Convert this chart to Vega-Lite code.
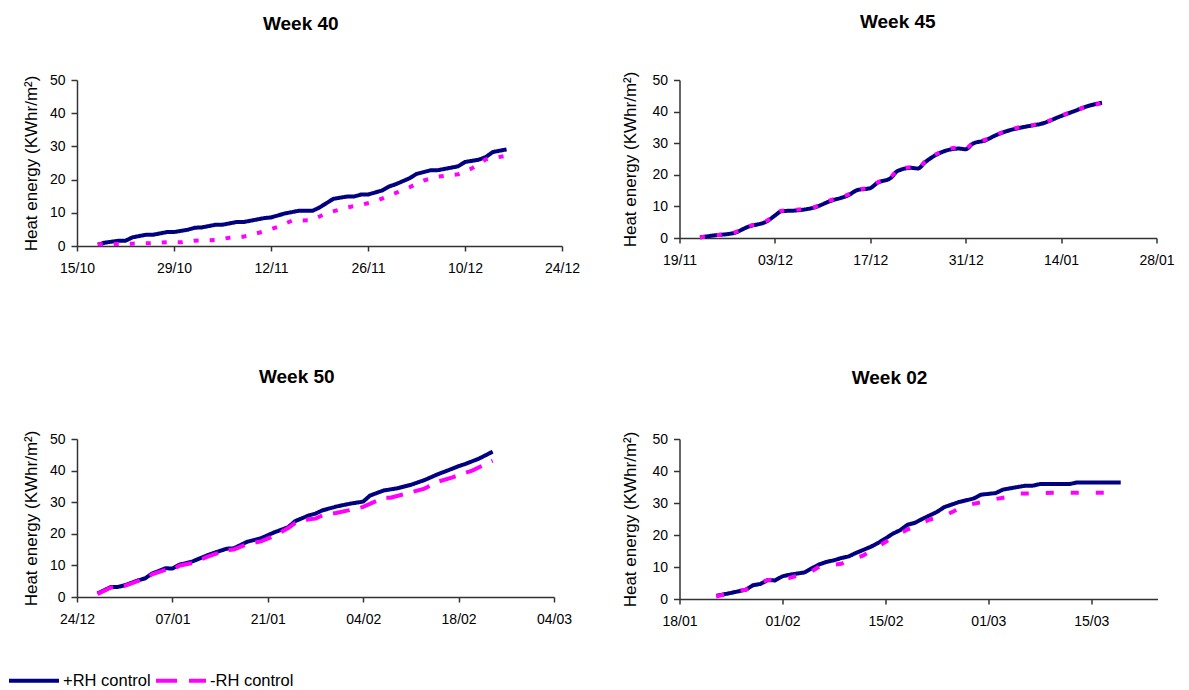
{
  "$schema": "https://vega.github.io/schema/vega-lite/v6.json",
  "autosize": {"type": "pad"},
  "padding": {"left": 7, "top": 12, "right": 0, "bottom": 0},
  "background": "white",
  "datasets": {
    "w40": [
      {"date": "2006-10-18", "series": "+RH control", "energy": 0.4},
      {"date": "2006-10-19", "series": "+RH control", "energy": 1.0},
      {"date": "2006-10-21", "series": "+RH control", "energy": 1.6},
      {"date": "2006-10-22", "series": "+RH control", "energy": 1.6},
      {"date": "2006-10-23", "series": "+RH control", "energy": 2.6},
      {"date": "2006-10-25", "series": "+RH control", "energy": 3.4},
      {"date": "2006-10-26", "series": "+RH control", "energy": 3.4},
      {"date": "2006-10-28", "series": "+RH control", "energy": 4.2},
      {"date": "2006-10-29", "series": "+RH control", "energy": 4.2},
      {"date": "2006-10-31", "series": "+RH control", "energy": 4.9},
      {"date": "2006-11-01", "series": "+RH control", "energy": 5.5},
      {"date": "2006-11-02", "series": "+RH control", "energy": 5.6},
      {"date": "2006-11-04", "series": "+RH control", "energy": 6.4},
      {"date": "2006-11-05", "series": "+RH control", "energy": 6.4},
      {"date": "2006-11-07", "series": "+RH control", "energy": 7.2},
      {"date": "2006-11-08", "series": "+RH control", "energy": 7.2},
      {"date": "2006-11-11", "series": "+RH control", "energy": 8.4},
      {"date": "2006-11-12", "series": "+RH control", "energy": 8.6},
      {"date": "2006-11-14", "series": "+RH control", "energy": 9.8},
      {"date": "2006-11-16", "series": "+RH control", "energy": 10.6},
      {"date": "2006-11-18", "series": "+RH control", "energy": 10.6},
      {"date": "2006-11-19", "series": "+RH control", "energy": 11.6},
      {"date": "2006-11-20", "series": "+RH control", "energy": 12.9},
      {"date": "2006-11-21", "series": "+RH control", "energy": 14.2},
      {"date": "2006-11-23", "series": "+RH control", "energy": 14.9},
      {"date": "2006-11-24", "series": "+RH control", "energy": 14.9},
      {"date": "2006-11-25", "series": "+RH control", "energy": 15.5},
      {"date": "2006-11-26", "series": "+RH control", "energy": 15.5},
      {"date": "2006-11-28", "series": "+RH control", "energy": 16.7},
      {"date": "2006-11-29", "series": "+RH control", "energy": 17.9},
      {"date": "2006-11-30", "series": "+RH control", "energy": 18.6},
      {"date": "2006-12-02", "series": "+RH control", "energy": 20.4},
      {"date": "2006-12-03", "series": "+RH control", "energy": 21.7},
      {"date": "2006-12-05", "series": "+RH control", "energy": 22.8},
      {"date": "2006-12-06", "series": "+RH control", "energy": 22.8},
      {"date": "2006-12-09", "series": "+RH control", "energy": 24.0},
      {"date": "2006-12-10", "series": "+RH control", "energy": 25.3},
      {"date": "2006-12-12", "series": "+RH control", "energy": 26.0},
      {"date": "2006-12-13", "series": "+RH control", "energy": 26.8},
      {"date": "2006-12-14", "series": "+RH control", "energy": 28.3},
      {"date": "2006-12-16", "series": "+RH control", "energy": 29.1},
      {"date": "2006-10-18", "series": "-RH control", "energy": 0.5},
      {"date": "2006-10-20", "series": "-RH control", "energy": 0.6},
      {"date": "2006-10-23", "series": "-RH control", "energy": 0.7},
      {"date": "2006-10-25", "series": "-RH control", "energy": 0.8},
      {"date": "2006-10-28", "series": "-RH control", "energy": 1.1},
      {"date": "2006-10-30", "series": "-RH control", "energy": 1.1},
      {"date": "2006-11-01", "series": "-RH control", "energy": 1.6},
      {"date": "2006-11-04", "series": "-RH control", "energy": 1.8},
      {"date": "2006-11-06", "series": "-RH control", "energy": 2.5},
      {"date": "2006-11-08", "series": "-RH control", "energy": 2.8},
      {"date": "2006-11-11", "series": "-RH control", "energy": 4.4},
      {"date": "2006-11-13", "series": "-RH control", "energy": 5.8},
      {"date": "2006-11-15", "series": "-RH control", "energy": 7.6},
      {"date": "2006-11-18", "series": "-RH control", "energy": 7.8},
      {"date": "2006-11-20", "series": "-RH control", "energy": 9.9},
      {"date": "2006-11-23", "series": "-RH control", "energy": 11.6},
      {"date": "2006-11-25", "series": "-RH control", "energy": 12.4},
      {"date": "2006-11-27", "series": "-RH control", "energy": 13.4},
      {"date": "2006-11-29", "series": "-RH control", "energy": 15.1},
      {"date": "2006-12-02", "series": "-RH control", "energy": 17.7},
      {"date": "2006-12-04", "series": "-RH control", "energy": 19.7},
      {"date": "2006-12-06", "series": "-RH control", "energy": 20.9},
      {"date": "2006-12-09", "series": "-RH control", "energy": 21.6},
      {"date": "2006-12-11", "series": "-RH control", "energy": 23.4},
      {"date": "2006-12-13", "series": "-RH control", "energy": 26.1},
      {"date": "2006-12-16", "series": "-RH control", "energy": 27.2}
    ],
    "w45": [
      {"date": "2006-11-22", "series": "+RH control", "energy": 0.2},
      {"date": "2006-11-24", "series": "+RH control", "energy": 0.8},
      {"date": "2006-11-27", "series": "+RH control", "energy": 1.6},
      {"date": "2006-11-29", "series": "+RH control", "energy": 3.5},
      {"date": "2006-12-02", "series": "+RH control", "energy": 5.5},
      {"date": "2006-12-03", "series": "+RH control", "energy": 7.1},
      {"date": "2006-12-04", "series": "+RH control", "energy": 8.5},
      {"date": "2006-12-06", "series": "+RH control", "energy": 8.7},
      {"date": "2006-12-09", "series": "+RH control", "energy": 9.8},
      {"date": "2006-12-11", "series": "+RH control", "energy": 11.6},
      {"date": "2006-12-14", "series": "+RH control", "energy": 13.8},
      {"date": "2006-12-15", "series": "+RH control", "energy": 15.1},
      {"date": "2006-12-17", "series": "+RH control", "energy": 15.8},
      {"date": "2006-12-18", "series": "+RH control", "energy": 17.4},
      {"date": "2006-12-20", "series": "+RH control", "energy": 19.0},
      {"date": "2006-12-21", "series": "+RH control", "energy": 21.2},
      {"date": "2006-12-23", "series": "+RH control", "energy": 22.2},
      {"date": "2006-12-24", "series": "+RH control", "energy": 22.0},
      {"date": "2006-12-25", "series": "+RH control", "energy": 23.9},
      {"date": "2006-12-27", "series": "+RH control", "energy": 26.7},
      {"date": "2006-12-30", "series": "+RH control", "energy": 28.3},
      {"date": "2006-12-31", "series": "+RH control", "energy": 28.1},
      {"date": "2007-01-01", "series": "+RH control", "energy": 29.8},
      {"date": "2007-01-03", "series": "+RH control", "energy": 31.0},
      {"date": "2007-01-04", "series": "+RH control", "energy": 32.1},
      {"date": "2007-01-06", "series": "+RH control", "energy": 33.8},
      {"date": "2007-01-08", "series": "+RH control", "energy": 34.9},
      {"date": "2007-01-10", "series": "+RH control", "energy": 35.7},
      {"date": "2007-01-11", "series": "+RH control", "energy": 36.1},
      {"date": "2007-01-14", "series": "+RH control", "energy": 38.6},
      {"date": "2007-01-16", "series": "+RH control", "energy": 40.2},
      {"date": "2007-01-18", "series": "+RH control", "energy": 41.8},
      {"date": "2007-01-20", "series": "+RH control", "energy": 42.8},
      {"date": "2006-11-22", "series": "-RH control", "energy": 0.2},
      {"date": "2006-11-24", "series": "-RH control", "energy": 0.8},
      {"date": "2006-11-27", "series": "-RH control", "energy": 1.7},
      {"date": "2006-11-29", "series": "-RH control", "energy": 3.6},
      {"date": "2006-12-02", "series": "-RH control", "energy": 5.7},
      {"date": "2006-12-03", "series": "-RH control", "energy": 7.3},
      {"date": "2006-12-04", "series": "-RH control", "energy": 8.6},
      {"date": "2006-12-06", "series": "-RH control", "energy": 8.9},
      {"date": "2006-12-09", "series": "-RH control", "energy": 9.9},
      {"date": "2006-12-11", "series": "-RH control", "energy": 11.8},
      {"date": "2006-12-14", "series": "-RH control", "energy": 14.0},
      {"date": "2006-12-15", "series": "-RH control", "energy": 15.2},
      {"date": "2006-12-17", "series": "-RH control", "energy": 16.0},
      {"date": "2006-12-18", "series": "-RH control", "energy": 17.5},
      {"date": "2006-12-20", "series": "-RH control", "energy": 19.3},
      {"date": "2006-12-21", "series": "-RH control", "energy": 21.4},
      {"date": "2006-12-23", "series": "-RH control", "energy": 22.4},
      {"date": "2006-12-24", "series": "-RH control", "energy": 22.2},
      {"date": "2006-12-25", "series": "-RH control", "energy": 24.1},
      {"date": "2006-12-27", "series": "-RH control", "energy": 26.9},
      {"date": "2006-12-30", "series": "-RH control", "energy": 28.6},
      {"date": "2006-12-31", "series": "-RH control", "energy": 28.4},
      {"date": "2007-01-01", "series": "-RH control", "energy": 29.9},
      {"date": "2007-01-03", "series": "-RH control", "energy": 31.2},
      {"date": "2007-01-04", "series": "-RH control", "energy": 32.2},
      {"date": "2007-01-06", "series": "-RH control", "energy": 33.9},
      {"date": "2007-01-08", "series": "-RH control", "energy": 35.1},
      {"date": "2007-01-10", "series": "-RH control", "energy": 35.8},
      {"date": "2007-01-11", "series": "-RH control", "energy": 36.2},
      {"date": "2007-01-14", "series": "-RH control", "energy": 38.7},
      {"date": "2007-01-16", "series": "-RH control", "energy": 40.3},
      {"date": "2007-01-18", "series": "-RH control", "energy": 41.7},
      {"date": "2007-01-20", "series": "-RH control", "energy": 42.6}
    ],
    "w50": [
      {"date": "2006-12-27", "series": "+RH control", "energy": 1.1},
      {"date": "2006-12-29", "series": "+RH control", "energy": 3.2},
      {"date": "2006-12-30", "series": "+RH control", "energy": 3.2},
      {"date": "2006-12-31", "series": "+RH control", "energy": 3.7},
      {"date": "2007-01-02", "series": "+RH control", "energy": 5.3},
      {"date": "2007-01-03", "series": "+RH control", "energy": 5.9},
      {"date": "2007-01-04", "series": "+RH control", "energy": 7.4},
      {"date": "2007-01-06", "series": "+RH control", "energy": 9.1},
      {"date": "2007-01-07", "series": "+RH control", "energy": 9.0},
      {"date": "2007-01-08", "series": "+RH control", "energy": 10.2},
      {"date": "2007-01-10", "series": "+RH control", "energy": 11.3},
      {"date": "2007-01-12", "series": "+RH control", "energy": 13.1},
      {"date": "2007-01-13", "series": "+RH control", "energy": 13.9},
      {"date": "2007-01-15", "series": "+RH control", "energy": 15.3},
      {"date": "2007-01-16", "series": "+RH control", "energy": 15.4},
      {"date": "2007-01-18", "series": "+RH control", "energy": 17.5},
      {"date": "2007-01-20", "series": "+RH control", "energy": 18.6},
      {"date": "2007-01-22", "series": "+RH control", "energy": 20.5},
      {"date": "2007-01-24", "series": "+RH control", "energy": 22.1},
      {"date": "2007-01-25", "series": "+RH control", "energy": 24.0},
      {"date": "2007-01-27", "series": "+RH control", "energy": 25.8},
      {"date": "2007-01-28", "series": "+RH control", "energy": 26.4},
      {"date": "2007-01-29", "series": "+RH control", "energy": 27.4},
      {"date": "2007-01-31", "series": "+RH control", "energy": 28.6},
      {"date": "2007-02-02", "series": "+RH control", "energy": 29.5},
      {"date": "2007-02-04", "series": "+RH control", "energy": 30.2},
      {"date": "2007-02-05", "series": "+RH control", "energy": 32.1},
      {"date": "2007-02-07", "series": "+RH control", "energy": 33.7},
      {"date": "2007-02-09", "series": "+RH control", "energy": 34.4},
      {"date": "2007-02-11", "series": "+RH control", "energy": 35.5},
      {"date": "2007-02-13", "series": "+RH control", "energy": 37.0},
      {"date": "2007-02-15", "series": "+RH control", "energy": 38.9},
      {"date": "2007-02-16", "series": "+RH control", "energy": 39.7},
      {"date": "2007-02-18", "series": "+RH control", "energy": 41.4},
      {"date": "2007-02-19", "series": "+RH control", "energy": 42.1},
      {"date": "2007-02-21", "series": "+RH control", "energy": 43.8},
      {"date": "2007-02-23", "series": "+RH control", "energy": 46.0},
      {"date": "2006-12-27", "series": "-RH control", "energy": 1.0},
      {"date": "2006-12-29", "series": "-RH control", "energy": 3.0},
      {"date": "2006-12-30", "series": "-RH control", "energy": 3.0},
      {"date": "2006-12-31", "series": "-RH control", "energy": 3.5},
      {"date": "2007-01-02", "series": "-RH control", "energy": 5.1},
      {"date": "2007-01-03", "series": "-RH control", "energy": 5.7},
      {"date": "2007-01-04", "series": "-RH control", "energy": 7.2},
      {"date": "2007-01-06", "series": "-RH control", "energy": 8.6},
      {"date": "2007-01-07", "series": "-RH control", "energy": 8.5},
      {"date": "2007-01-08", "series": "-RH control", "energy": 9.9},
      {"date": "2007-01-10", "series": "-RH control", "energy": 10.8},
      {"date": "2007-01-12", "series": "-RH control", "energy": 12.6},
      {"date": "2007-01-13", "series": "-RH control", "energy": 13.4},
      {"date": "2007-01-15", "series": "-RH control", "energy": 14.8},
      {"date": "2007-01-16", "series": "-RH control", "energy": 15.0},
      {"date": "2007-01-18", "series": "-RH control", "energy": 16.8},
      {"date": "2007-01-20", "series": "-RH control", "energy": 17.6},
      {"date": "2007-01-22", "series": "-RH control", "energy": 19.4},
      {"date": "2007-01-24", "series": "-RH control", "energy": 21.8},
      {"date": "2007-01-25", "series": "-RH control", "energy": 23.4},
      {"date": "2007-01-27", "series": "-RH control", "energy": 24.6},
      {"date": "2007-01-28", "series": "-RH control", "energy": 24.8},
      {"date": "2007-01-29", "series": "-RH control", "energy": 25.8},
      {"date": "2007-01-31", "series": "-RH control", "energy": 26.6},
      {"date": "2007-02-02", "series": "-RH control", "energy": 27.5},
      {"date": "2007-02-04", "series": "-RH control", "energy": 28.5},
      {"date": "2007-02-07", "series": "-RH control", "energy": 31.4},
      {"date": "2007-02-08", "series": "-RH control", "energy": 31.4},
      {"date": "2007-02-11", "series": "-RH control", "energy": 33.1},
      {"date": "2007-02-13", "series": "-RH control", "energy": 34.3},
      {"date": "2007-02-15", "series": "-RH control", "energy": 36.5},
      {"date": "2007-02-17", "series": "-RH control", "energy": 37.8},
      {"date": "2007-02-20", "series": "-RH control", "energy": 40.0},
      {"date": "2007-02-22", "series": "-RH control", "energy": 42.1},
      {"date": "2007-02-23", "series": "-RH control", "energy": 43.1}
    ],
    "w02": [
      {"date": "2007-01-23", "series": "+RH control", "energy": 1.0},
      {"date": "2007-01-25", "series": "+RH control", "energy": 1.9},
      {"date": "2007-01-27", "series": "+RH control", "energy": 2.9},
      {"date": "2007-01-28", "series": "+RH control", "energy": 4.3},
      {"date": "2007-01-29", "series": "+RH control", "energy": 4.7},
      {"date": "2007-01-30", "series": "+RH control", "energy": 5.9},
      {"date": "2007-01-31", "series": "+RH control", "energy": 5.8},
      {"date": "2007-02-01", "series": "+RH control", "energy": 7.1},
      {"date": "2007-02-02", "series": "+RH control", "energy": 7.6},
      {"date": "2007-02-04", "series": "+RH control", "energy": 8.3},
      {"date": "2007-02-05", "series": "+RH control", "energy": 9.6},
      {"date": "2007-02-06", "series": "+RH control", "energy": 10.8},
      {"date": "2007-02-07", "series": "+RH control", "energy": 11.6},
      {"date": "2007-02-08", "series": "+RH control", "energy": 12.1},
      {"date": "2007-02-09", "series": "+RH control", "energy": 12.8},
      {"date": "2007-02-10", "series": "+RH control", "energy": 13.3},
      {"date": "2007-02-11", "series": "+RH control", "energy": 14.4},
      {"date": "2007-02-13", "series": "+RH control", "energy": 16.3},
      {"date": "2007-02-14", "series": "+RH control", "energy": 17.5},
      {"date": "2007-02-15", "series": "+RH control", "energy": 18.9},
      {"date": "2007-02-16", "series": "+RH control", "energy": 20.4},
      {"date": "2007-02-17", "series": "+RH control", "energy": 21.5},
      {"date": "2007-02-18", "series": "+RH control", "energy": 23.2},
      {"date": "2007-02-19", "series": "+RH control", "energy": 23.8},
      {"date": "2007-02-20", "series": "+RH control", "energy": 25.0},
      {"date": "2007-02-22", "series": "+RH control", "energy": 27.2},
      {"date": "2007-02-23", "series": "+RH control", "energy": 28.7},
      {"date": "2007-02-25", "series": "+RH control", "energy": 30.3},
      {"date": "2007-02-27", "series": "+RH control", "energy": 31.4},
      {"date": "2007-02-28", "series": "+RH control", "energy": 32.6},
      {"date": "2007-03-02", "series": "+RH control", "energy": 33.1},
      {"date": "2007-03-03", "series": "+RH control", "energy": 34.2},
      {"date": "2007-03-06", "series": "+RH control", "energy": 35.4},
      {"date": "2007-03-07", "series": "+RH control", "energy": 35.4},
      {"date": "2007-03-08", "series": "+RH control", "energy": 35.9},
      {"date": "2007-03-12", "series": "+RH control", "energy": 35.9},
      {"date": "2007-03-13", "series": "+RH control", "energy": 36.4},
      {"date": "2007-03-19", "series": "+RH control", "energy": 36.4},
      {"date": "2007-01-23", "series": "-RH control", "energy": 0.8},
      {"date": "2007-01-24", "series": "-RH control", "energy": 1.4},
      {"date": "2007-01-26", "series": "-RH control", "energy": 2.5},
      {"date": "2007-01-27", "series": "-RH control", "energy": 2.9},
      {"date": "2007-01-29", "series": "-RH control", "energy": 5.2},
      {"date": "2007-01-30", "series": "-RH control", "energy": 5.9},
      {"date": "2007-02-02", "series": "-RH control", "energy": 6.6},
      {"date": "2007-02-03", "series": "-RH control", "energy": 7.3},
      {"date": "2007-02-05", "series": "-RH control", "energy": 8.7},
      {"date": "2007-02-06", "series": "-RH control", "energy": 10.1},
      {"date": "2007-02-09", "series": "-RH control", "energy": 11.0},
      {"date": "2007-02-10", "series": "-RH control", "energy": 12.0},
      {"date": "2007-02-12", "series": "-RH control", "energy": 13.6},
      {"date": "2007-02-13", "series": "-RH control", "energy": 15.1},
      {"date": "2007-02-15", "series": "-RH control", "energy": 17.8},
      {"date": "2007-02-16", "series": "-RH control", "energy": 19.3},
      {"date": "2007-02-18", "series": "-RH control", "energy": 21.7},
      {"date": "2007-02-19", "series": "-RH control", "energy": 22.7},
      {"date": "2007-02-21", "series": "-RH control", "energy": 24.8},
      {"date": "2007-02-23", "series": "-RH control", "energy": 26.0},
      {"date": "2007-02-25", "series": "-RH control", "energy": 28.2},
      {"date": "2007-02-26", "series": "-RH control", "energy": 29.3},
      {"date": "2007-02-28", "series": "-RH control", "energy": 30.2},
      {"date": "2007-03-01", "series": "-RH control", "energy": 30.8},
      {"date": "2007-03-04", "series": "-RH control", "energy": 32.1},
      {"date": "2007-03-05", "series": "-RH control", "energy": 33.0},
      {"date": "2007-03-07", "series": "-RH control", "energy": 33.0},
      {"date": "2007-03-10", "series": "-RH control", "energy": 33.2},
      {"date": "2007-03-18", "series": "-RH control", "energy": 33.2}
    ]
  },
  "concat": [
    {
      "title": {"text": "Week 40", "offset": 39.5},
      "width": 485,
      "height": 166,
      "data": {"name": "w40"},
      "mark": {"type": "line", "strokeWidth": 4},
      "encoding": {
        "x": {
          "field": "date", "type": "temporal",
          "scale": {"type": "utc", "domain": [{"year": 2006, "month": 10, "date": 15, "utc": true}, {"year": 2006, "month": 12, "date": 24, "utc": true}]},
          "axis": {"title": null, "labelExpr": "utcFormat(datum.value, '%d/%m')",
            "values": [{"year": 2006, "month": 10, "date": 15, "utc": true}, {"year": 2006, "month": 10, "date": 29, "utc": true}, {"year": 2006, "month": 11, "date": 12, "utc": true}, {"year": 2006, "month": 11, "date": 26, "utc": true}, {"year": 2006, "month": 12, "date": 10, "utc": true}, {"year": 2006, "month": 12, "date": 24, "utc": true}]}
        },
        "y": {"field": "energy", "type": "quantitative", "scale": {"domain": [0, 50]},
          "axis": {"title": "Heat energy (KWhr/m²)", "values": [0, 10, 20, 30, 40, 50], "titlePadding": 9.4}},
        "color": {"field": "series", "type": "nominal",
          "scale": {"domain": ["+RH control", "-RH control"], "range": ["#000080", "#FF00FF"]},
          "legend": {"title": null, "encode": {"symbols": {"update": {"strokeDash": {"signal": "datum.value === '-RH control' ? [21, 12] : [1, 0]"}}}}}},
        "strokeDash": {"field": "series", "type": "nominal",
          "scale": {"domain": ["+RH control", "-RH control"], "range": [[1, 0], [5, 11]]}, "legend": null}
      }
    },
    {
      "title": {"text": "Week 45", "offset": 39.5},
      "width": 477,
      "height": 158,
      "data": {"name": "w45"},
      "mark": {"type": "line", "strokeWidth": 4, "interpolate": "monotone"},
      "encoding": {
        "x": {
          "field": "date", "type": "temporal",
          "scale": {"type": "utc", "domain": [{"year": 2006, "month": 11, "date": 19, "utc": true}, {"year": 2007, "month": 1, "date": 28, "utc": true}]},
          "axis": {"title": null, "labelExpr": "utcFormat(datum.value, '%d/%m')",
            "values": [{"year": 2006, "month": 11, "date": 19, "utc": true}, {"year": 2006, "month": 12, "date": 3, "utc": true}, {"year": 2006, "month": 12, "date": 17, "utc": true}, {"year": 2006, "month": 12, "date": 31, "utc": true}, {"year": 2007, "month": 1, "date": 14, "utc": true}, {"year": 2007, "month": 1, "date": 28, "utc": true}]}
        },
        "y": {"field": "energy", "type": "quantitative", "scale": {"domain": [0, 50]},
          "axis": {"title": "Heat energy (KWhr/m²)", "values": [0, 10, 20, 30, 40, 50], "titlePadding": 12.4}},
        "color": {"field": "series", "type": "nominal",
          "scale": {"domain": ["+RH control", "-RH control"], "range": ["#000080", "#FF00FF"]},
          "legend": {"title": null, "encode": {"symbols": {"update": {"strokeDash": {"signal": "datum.value === '-RH control' ? [21, 12] : [1, 0]"}}}}}},
        "strokeDash": {"field": "series", "type": "nominal",
          "scale": {"domain": ["+RH control", "-RH control"], "range": [[1, 0], [5, 12]]}, "legend": null}
      }
    },
    {
      "title": {"text": "Week 50", "offset": 43},
      "width": 477,
      "height": 158,
      "data": {"name": "w50"},
      "mark": {"type": "line", "strokeWidth": 4},
      "encoding": {
        "x": {
          "field": "date", "type": "temporal",
          "scale": {"type": "utc", "domain": [{"year": 2006, "month": 12, "date": 24, "utc": true}, {"year": 2007, "month": 3, "date": 4, "utc": true}]},
          "axis": {"title": null, "labelExpr": "utcFormat(datum.value, '%d/%m')",
            "values": [{"year": 2006, "month": 12, "date": 24, "utc": true}, {"year": 2007, "month": 1, "date": 7, "utc": true}, {"year": 2007, "month": 1, "date": 21, "utc": true}, {"year": 2007, "month": 2, "date": 4, "utc": true}, {"year": 2007, "month": 2, "date": 18, "utc": true}, {"year": 2007, "month": 3, "date": 4, "utc": true}]}
        },
        "y": {"field": "energy", "type": "quantitative", "scale": {"domain": [0, 50]},
          "axis": {"title": "Heat energy (KWhr/m²)", "values": [0, 10, 20, 30, 40, 50], "titlePadding": 9.4}},
        "color": {"field": "series", "type": "nominal",
          "scale": {"domain": ["+RH control", "-RH control"], "range": ["#000080", "#FF00FF"]},
          "legend": {"title": null, "encode": {"symbols": {"update": {"strokeDash": {"signal": "datum.value === '-RH control' ? [21, 12] : [1, 0]"}}}}}},
        "strokeDash": {"field": "series", "type": "nominal",
          "scale": {"domain": ["+RH control", "-RH control"], "range": [[1, 0], [17, 11]]}, "legend": null}
      }
    },
    {
      "title": {"text": "Week 02", "offset": 43},
      "width": 478,
      "height": 160,
      "data": {"name": "w02"},
      "mark": {"type": "line", "strokeWidth": 4},
      "encoding": {
        "x": {
          "field": "date", "type": "temporal",
          "scale": {"type": "utc", "domain": [{"year": 2007, "month": 1, "date": 18, "utc": true}, {"year": 2007, "month": 3, "date": 24, "utc": true}]},
          "axis": {"title": null, "labelExpr": "utcFormat(datum.value, '%d/%m')",
            "values": [{"year": 2007, "month": 1, "date": 18, "utc": true}, {"year": 2007, "month": 2, "date": 1, "utc": true}, {"year": 2007, "month": 2, "date": 15, "utc": true}, {"year": 2007, "month": 3, "date": 1, "utc": true}, {"year": 2007, "month": 3, "date": 15, "utc": true}]}
        },
        "y": {"field": "energy", "type": "quantitative", "scale": {"domain": [0, 50]},
          "axis": {"title": "Heat energy (KWhr/m²)", "values": [0, 10, 20, 30, 40, 50], "titlePadding": 12.4}},
        "color": {"field": "series", "type": "nominal",
          "scale": {"domain": ["+RH control", "-RH control"], "range": ["#000080", "#FF00FF"]},
          "legend": {"title": null, "encode": {"symbols": {"update": {"strokeDash": {"signal": "datum.value === '-RH control' ? [21, 12] : [1, 0]"}}}}}},
        "strokeDash": {"field": "series", "type": "nominal",
          "scale": {"domain": ["+RH control", "-RH control"], "range": [[1, 0], [8, 17]]}, "legend": null}
      }
    }
  ],
  "columns": 2,
  "spacing": {"row": 93, "column": 41.5},
  "resolve": {"scale": {"strokeDash": "independent"}},
  "config": {
    "font": "Liberation Sans",
    "view": {"stroke": null},
    "title": {"font": "Liberation Sans", "fontSize": 19, "fontWeight": "bold", "color": "#000000", "frame": "bounds", "anchor": "middle"},
    "axis": {
      "grid": false,
      "domainColor": "#333333", "domainWidth": 1.5,
      "tickColor": "#333333", "tickWidth": 1.5,
      "labelFont": "Liberation Sans", "labelFontSize": 14, "labelColor": "#000000",
      "titleFont": "Liberation Sans", "titleFontSize": 17, "titleFontWeight": "normal", "titleColor": "#000000",
      "labelOverlap": false, "labelFlush": false
    },
    "axisX": {"tickSize": 5, "labelPadding": 10},
    "axisY": {"tickSize": 6, "labelPadding": 6},
    "legend": {
      "orient": "none", "legendX": -70, "legendY": 573.5, "direction": "horizontal",
      "symbolType": "stroke", "symbolSize": 2500, "symbolStrokeWidth": 4,
      "labelFont": "Liberation Sans", "labelFontSize": 16.5, "labelColor": "#000000",
      "labelOffset": 2, "columnPadding": -3, "padding": 0
    }
  }
}
